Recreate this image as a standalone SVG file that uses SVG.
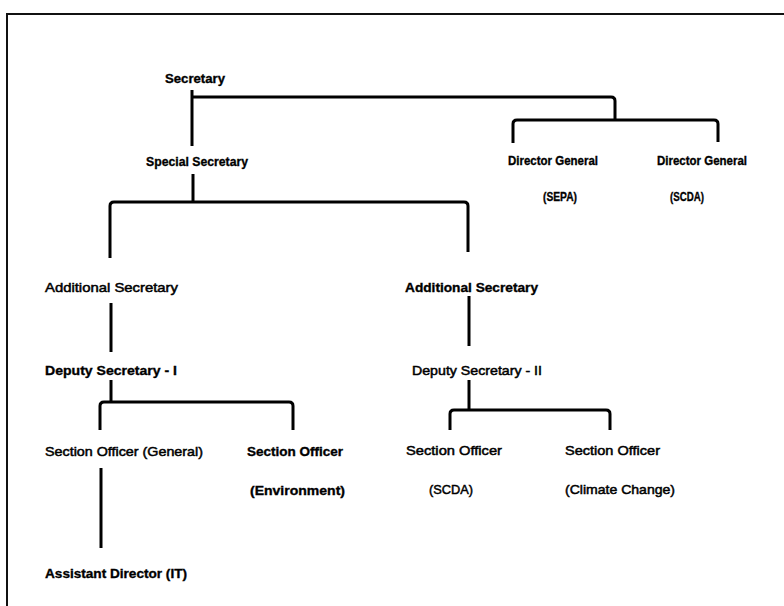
<svg xmlns="http://www.w3.org/2000/svg" width="784" height="606" viewBox="0 0 784 606">
  <style>
    .t { font-family: "Liberation Sans", Arial, sans-serif; font-size: 13px; fill: #000; stroke: #000; stroke-width: 0.35; dominant-baseline: central; }
    .b { font-weight: bold; }
    .r { font-weight: normal; stroke-width: 0.5; }
    .ln { fill: none; stroke: #000; stroke-width: 3; stroke-linecap: butt; stroke-linejoin: round; }
  </style>
  <rect width="784" height="606" fill="#fff"/>
  <!-- page frame, running off the right and bottom edges -->
  <rect x="7" y="14" width="800" height="620" fill="none" stroke="#111" stroke-width="2"/>

  <g id="connectors">
    <path class="ln" d="M192,90 V146"/>
    <path class="ln" d="M192,97 H611 Q615,97 615,101 V120"/>
    <path class="ln" d="M513,143 V124 Q513,120 517,120 H714 Q718,120 718,124 V142"/>
    <path class="ln" d="M193,174 V202"/>
    <path class="ln" d="M110,258 V206 Q110,202 114,202 H464 Q468,202 468,206 V252"/>
    <path class="ln" d="M111,303 V352"/>
    <path class="ln" d="M111,380 V402"/>
    <path class="ln" d="M100,430 V406 Q100,402 104,402 H289 Q293,402 293,406 V430"/>
    <path class="ln" d="M101,468 V548"/>
    <path class="ln" d="M469,296 V346"/>
    <path class="ln" d="M469,380 V410"/>
    <path class="ln" d="M450,430 V414 Q450,410 454,410 H606 Q610,410 610,414 V430"/>
  </g>

  <g id="secretary"><text class="t b" x="165" y="78" textLength="60" lengthAdjust="spacingAndGlyphs">Secretary</text></g>
  <g id="special-secretary"><text class="t b" x="146" y="161" textLength="102" lengthAdjust="spacingAndGlyphs">Special Secretary</text></g>
  <g id="dg-sepa">
    <text class="t b" x="508" y="160" textLength="90" lengthAdjust="spacingAndGlyphs">Director General</text>
    <text class="t b" x="543" y="196" textLength="34" lengthAdjust="spacingAndGlyphs">(SEPA)</text>
  </g>
  <g id="dg-scda">
    <text class="t b" x="657" y="160" textLength="90" lengthAdjust="spacingAndGlyphs">Director General</text>
    <text class="t b" x="670" y="196" textLength="34" lengthAdjust="spacingAndGlyphs">(SCDA)</text>
  </g>
  <g id="additional-secretary-1"><text class="t r" x="45" y="287" textLength="133" lengthAdjust="spacingAndGlyphs">Additional Secretary</text></g>
  <g id="additional-secretary-2"><text class="t b" x="405" y="287" textLength="133" lengthAdjust="spacingAndGlyphs">Additional Secretary</text></g>
  <g id="deputy-secretary-1"><text class="t b" x="45" y="370" textLength="132" lengthAdjust="spacingAndGlyphs">Deputy Secretary - I</text></g>
  <g id="deputy-secretary-2"><text class="t r" x="412" y="370" textLength="130" lengthAdjust="spacingAndGlyphs">Deputy Secretary - II</text></g>
  <g id="so-general"><text class="t r" x="45" y="451" textLength="158" lengthAdjust="spacingAndGlyphs">Section Officer (General)</text></g>
  <g id="so-environment">
    <text class="t b" x="247" y="451" textLength="96" lengthAdjust="spacingAndGlyphs">Section Officer</text>
    <text class="t b" x="250" y="490" textLength="95" lengthAdjust="spacingAndGlyphs">(Environment)</text>
  </g>
  <g id="so-scda">
    <text class="t r" x="406" y="450" textLength="96" lengthAdjust="spacingAndGlyphs">Section Officer</text>
    <text class="t r" x="429" y="489" textLength="44" lengthAdjust="spacingAndGlyphs">(SCDA)</text>
  </g>
  <g id="so-climate">
    <text class="t r" x="565" y="450" textLength="95" lengthAdjust="spacingAndGlyphs">Section Officer</text>
    <text class="t r" x="565" y="489" textLength="110" lengthAdjust="spacingAndGlyphs">(Climate Change)</text>
  </g>
  <g id="assistant-director"><text class="t b" x="45" y="573" textLength="142" lengthAdjust="spacingAndGlyphs">Assistant Director (IT)</text></g>
</svg>
